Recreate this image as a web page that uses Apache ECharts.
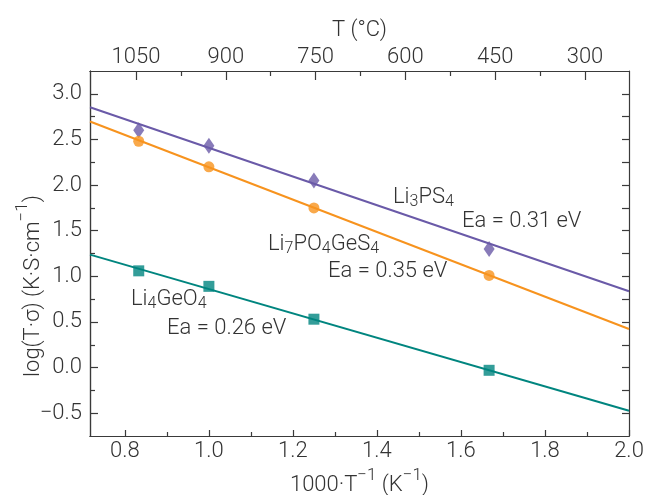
<!DOCTYPE html>
<html>
<head>
<meta charset="utf-8">
<script src="https://cdn.jsdelivr.net/npm/echarts@6/dist/echarts.min.js"></script>
<style>
  html, body { margin: 0; padding: 0; background: #fff; }
  #chart { width: 646px; height: 495px; }
</style>
</head>
<body>
<div id="chart"></div>
<script>
// measured points, 1000/T (K^-1) vs log(T*sigma)
const invT = [0.833, 1.0, 1.25, 1.667];
const li3ps4 = [2.60, 2.43, 2.05, 1.30];
const li7po4ges4 = [2.48, 2.20, 1.75, 1.01];
const li4geo4 = [1.06, 0.89, 0.53, -0.03];

// Arrhenius fit lines, ends at the plot edges
const fitX = [0.717, 2.0];
const li3ps4Fit = [2.853, 0.836];
const li7po4ges4Fit = [2.696, 0.423];
const li4geo4Fit = [1.238, -0.473];

// tick labels
const xTicks = [0.8, 1.0, 1.2, 1.4, 1.6, 1.8, 2.0];
const xMinor = [0.9, 1.1, 1.3, 1.5, 1.7, 1.9];
const tTicks = [1050, 900, 750, 600, 450, 300];
const tMinor = [975, 825, 675, 525, 375];
const yTicks = [-0.5, 0.0, 0.5, 1.0, 1.5, 2.0, 2.5, 3.0];
const yMinor = [-0.25, 0.25, 0.75, 1.25, 1.75, 2.25, 2.75];
const yAll = [-0.5, -0.25, 0, 0.25, 0.5, 0.75, 1.0, 1.25, 1.5, 1.75, 2.0, 2.25, 2.5, 2.75, 3.0];

const FONT = 'Roboto';
const TXT = '#333';
const AX = '#3a3a3a';

function pairs(xs, ys){ return xs.map((x, i) => [x, ys[i]]) }

function tickAxis(extra){
  return Object.assign({
    type: 'value',
    axisLine: {show: true, onZero: false, lineStyle: {color: AX, width: 1.2}},
    splitLine: {show: false},
    axisLabel: {show: false},
    axisTick: {show: true, inside: true, lineStyle: {color: AX, width: 1.2}}
  }, extra);
}

const labelStyle = {color: TXT, fontFamily: FONT, fontWeight: 300, fontSize: 22};

const chart = echarts.init(document.getElementById('chart'), null, {renderer: 'canvas'});

const xMin = 0.717, xMax = 2.0;
const tMin = 226.5, tMax = 1126.8;
const yMin = -0.75, yMax = 3.25;

const base = {fontFamily: FONT, fontWeight: 300, color: TXT};
// subscripts: small, dropped a little under the baseline
const subMain = {...base, fontSize: 22, lineHeight: 24, verticalAlign: 'top'};
const sub = {...base, fontSize: 16, lineHeight: 14, verticalAlign: 'bottom'};
// superscripts: raised to the cap height
const supMain = {...base, fontSize: 22, lineHeight: 30, verticalAlign: 'bottom'};
const sup = {...base, fontSize: 17, lineHeight: 12, verticalAlign: 'top'};

function note(text, x, y){
  return {
    type: 'text', x: x, y: y, z: 10,
    style: {text: text, rich: {a: subMain, s: sub}, fill: TXT, verticalAlign: 'middle'}
  };
}

chart.setOption({
  animation: false,
  grid: {left: 90, right: 17, top: 71, bottom: 59, outerBoundsMode: 'none'},
  xAxis: [
    tickAxis({position: 'bottom', min: xMin, max: xMax,
      axisTick: {show: true, inside: true, length: 6, customValues: xTicks, lineStyle: {color: AX, width: 1.2}},
      axisLabel: {show: true, customValues: xTicks, margin: 4, formatter: v => v.toFixed(1), ...labelStyle},
      name: '{a|1000·T}{p|−1}{a| (K}{p|−1}{a|)}', nameLocation: 'middle', nameGap: 28,
      nameTextStyle: {rich: {a: supMain, p: sup}}
    }),
    tickAxis({position: 'bottom', min: xMin, max: xMax,
      axisTick: {show: true, inside: true, length: 4, customValues: xMinor, lineStyle: {color: AX, width: 1.2}}
    }),
    tickAxis({position: 'top', min: tMin, max: tMax, inverse: true,
      axisTick: {show: true, inside: true, length: 9, customValues: tTicks, lineStyle: {color: AX, width: 1.2}},
      axisLabel: {show: true, customValues: tTicks, margin: 3, formatter: v => String(v), ...labelStyle},
      name: 'T (°C)', nameLocation: 'middle', nameGap: 30,
      nameTextStyle: {...labelStyle}
    }),
    tickAxis({position: 'top', min: tMin, max: tMax, inverse: true,
      axisTick: {show: true, inside: true, length: 5, customValues: tMinor, lineStyle: {color: AX, width: 1.2}}
    })
  ],
  yAxis: [
    tickAxis({position: 'left', min: yMin, max: yMax,
      axisTick: {show: true, inside: true, length: 8, customValues: yTicks, lineStyle: {color: AX, width: 1.2}},
      axisLabel: {show: true, customValues: yTicks, margin: 8, formatter: v => (v < 0 ? '−' : '') + Math.abs(v).toFixed(1), ...labelStyle}
    }),
    tickAxis({position: 'left', min: yMin, max: yMax,
      axisTick: {show: true, inside: true, length: 5, customValues: yMinor, lineStyle: {color: AX, width: 1.2}}
    }),
    tickAxis({position: 'right', min: yMin, max: yMax,
      axisTick: {show: true, inside: true, length: 7, customValues: yAll, lineStyle: {color: AX, width: 1.2}}
    })
  ],
  series: [
    {type: 'line', data: pairs(fitX, li3ps4Fit), symbol: 'none', lineStyle: {color: '#6a5aa8', width: 2}, z: 2},
    {type: 'line', data: pairs(fitX, li7po4ges4Fit), symbol: 'none', lineStyle: {color: '#f7931e', width: 2}, z: 2},
    {type: 'line', data: pairs(fitX, li4geo4Fit), symbol: 'none', lineStyle: {color: '#00857f', width: 2}, z: 2},
    {type: 'scatter', data: pairs(invT, li3ps4), symbol: 'diamond', symbolSize: [11, 16], itemStyle: {color: '#6a5aa8'}, z: 3},
    {type: 'scatter', data: pairs(invT, li7po4ges4), symbol: 'circle', symbolSize: 11, itemStyle: {color: '#f7931e'}, z: 3},
    {type: 'scatter', data: pairs(invT, li4geo4), symbol: 'rect', symbolSize: 11, itemStyle: {color: '#00857f'}, z: 3}
  ],
  graphic: [
    {
      type: 'text', x: 29, y: 286, rotation: Math.PI / 2, z: 10,
      style: {text: '{a|log(T·σ) (K·S·cm}{p|−1}{a|)}', rich: {a: supMain, p: sup}, fill: TXT, align: 'center', verticalAlign: 'middle'}
    },
    note('{a|Li}{s|3}{a|PS}{s|4}', 393, 198),
    note('{a|Ea = 0.31 eV}', 462, 222),
    note('{a|Li}{s|7}{a|PO}{s|4}{a|GeS}{s|4}', 268, 245),
    note('{a|Ea = 0.35 eV}', 328, 272),
    note('{a|Li}{s|4}{a|GeO}{s|4}', 131, 300),
    note('{a|Ea = 0.26 eV}', 167, 329)
  ]
});
</script>
</body>
</html>
